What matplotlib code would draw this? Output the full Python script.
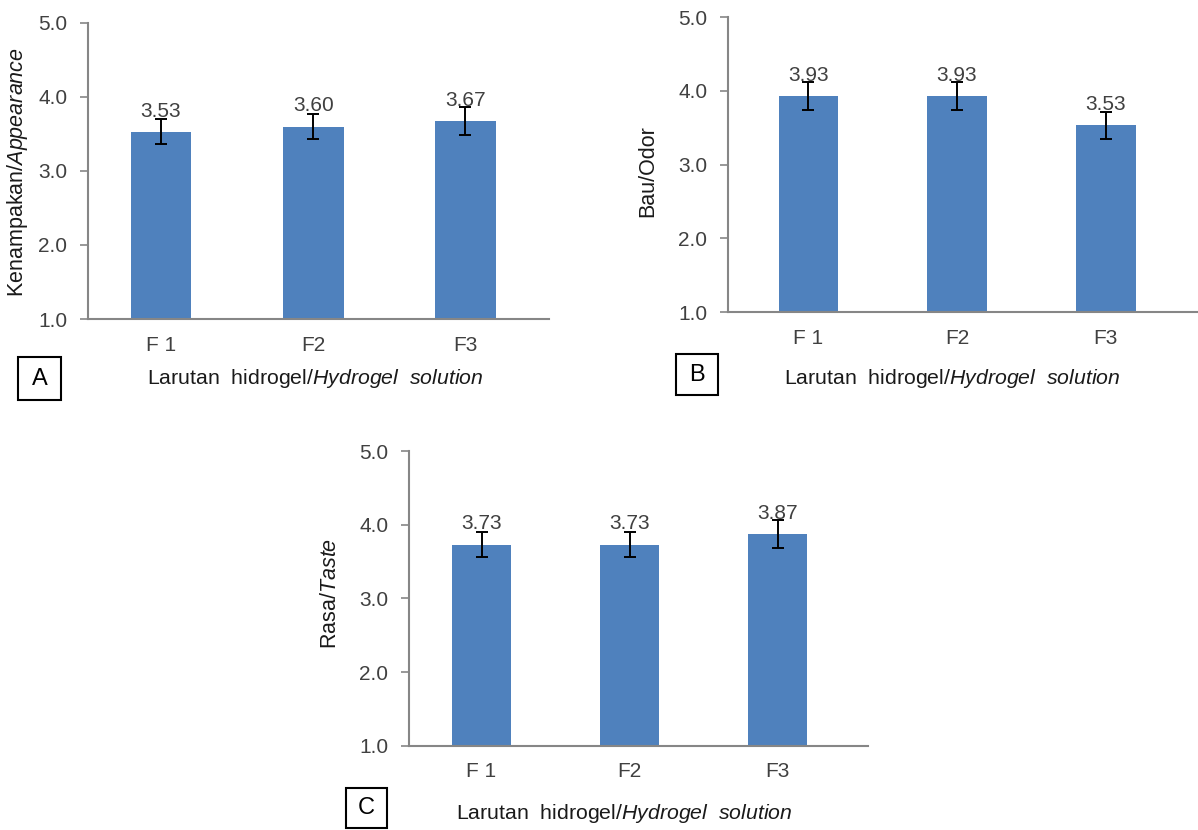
import matplotlib.pyplot as plt
from matplotlib.patches import Rectangle
import numpy as np

plt.rcParams['font.family'] = 'Liberation Sans'
plt.rcParams['mathtext.fontset'] = 'custom'
plt.rcParams['mathtext.rm'] = 'Liberation Sans'
plt.rcParams['mathtext.it'] = 'Liberation Sans:italic'

samples = ['F1', 'F2', 'F3']
tick_names = ['F 1', 'F2', 'F3']

appearance = [3.53, 3.60, 3.67]
appearance_err = [0.17, 0.17, 0.19]
odor = [3.93, 3.93, 3.53]
odor_err = [0.19, 0.19, 0.18]
taste = [3.73, 3.73, 3.87]
taste_err = [0.17, 0.17, 0.19]

bar_color = '#4F81BD'
axis_color = '#868686'
W, H = 1198, 830

fig = plt.figure(figsize=(11.98, 8.30), dpi=100)


def px(x, y):
    return x / W, 1 - y / H


def panel(rect, vals, errs, ylab, ylab_at, xlab_at, xlim, letter, box):
    ax = fig.add_axes(rect)
    x = np.arange(len(vals))
    ax.bar(x, vals, width=0.4, color=bar_color, zorder=2)
    ax.errorbar(x, vals, yerr=errs, fmt='none', ecolor='black',
                elinewidth=1.4, capsize=4, capthick=1.4, zorder=3)
    for xi, v in zip(x, vals):
        ax.annotate(f'{v:.2f}', (xi, v), xytext=(0, 8), textcoords='offset points',
                    ha='center', va='bottom', fontsize=15, color='#404040', zorder=4)
    ax.set_ylim(1, 5)
    ax.set_xlim(*xlim)
    ax.set_yticks([1, 2, 3, 4, 5])
    ax.set_yticklabels([f'{t:.1f}' for t in [1, 2, 3, 4, 5]])
    ax.set_xticks(x)
    ax.set_xticklabels(tick_names)
    for s in ['top', 'right']:
        ax.spines[s].set_visible(False)
    for s in ['left', 'bottom']:
        ax.spines[s].set_color(axis_color)
        ax.spines[s].set_linewidth(1.5)
    ax.tick_params(axis='y', direction='out', length=6, width=1.2, color=axis_color,
                   labelsize=15, labelcolor='#404040', pad=9)
    ax.tick_params(axis='x', length=0, labelsize=15, labelcolor='#404040', pad=12)

    ax.set_ylabel(ylab, fontsize=15.5, color='#1a1a1a', va='center')
    ax.yaxis.set_label_coords(*px(*ylab_at), transform=fig.transFigure)
    ax.set_xlabel(r'Larutan  hidrogel/$\it{Hydrogel\ \ solution}$', fontsize=15.3,
                  color='#1a1a1a', va='center')
    ax.xaxis.set_label_coords(*px(*xlab_at), transform=fig.transFigure)

    # panel letter in a square frame
    bx0, by0, bx1, by1 = box
    x0, y1 = px(bx0, by0)
    x1, y0 = px(bx1, by1)
    fig.patches.append(Rectangle((x0, y0), x1 - x0, y1 - y0, transform=fig.transFigure,
                                 fill=False, edgecolor='black', linewidth=1.5))
    fig.text((x0 + x1) / 2, (y0 + y1) / 2, letter, ha='center', va='center',
             fontsize=17, color='black')
    return ax


ax_a = panel([88 / W, 1 - 319 / H, 461 / W, 296 / H], appearance, appearance_err,
             r'Kenampakan/$\it{Appearance}$', (18, 172), (315, 378),
             (-0.48, 2.55), 'A', (18, 357, 61, 400))
ax_b = panel([728 / W, 1 - 312 / H, 470 / W, 295 / H], odor, odor_err,
             'Bau/Odor', (648, 171), (952, 378),
             (-0.54, 2.62), 'B', (676, 354, 718, 395))
ax_c = panel([409 / W, 1 - 745.7 / H, 459 / W, 294.7 / H], taste, taste_err,
             r'Rasa/$\it{Taste}$', (330, 593), (624, 813),
             (-0.49, 2.61), 'C', (346, 788, 387, 828))

fig.savefig('out.png', dpi=100)
